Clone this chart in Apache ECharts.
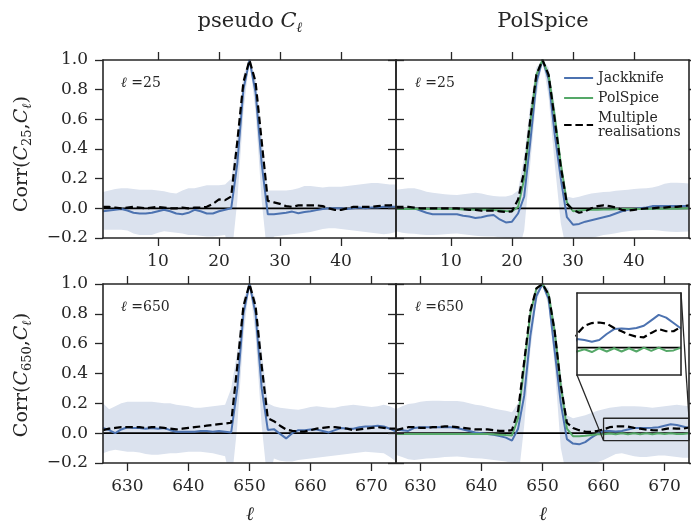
<!DOCTYPE html>
<html><head><meta charset="utf-8">
<script src="https://cdn.jsdelivr.net/npm/echarts@6/dist/echarts.min.js"></script>
<style>html,body{margin:0;padding:0;background:#fff}#c{width:691px;height:521px}</style>
</head><body><div id="c"></div>
<script>
// ---------- data ----------
function range(a, b) { const r = []; for (let v = a; v <= b; v++) r.push(v); return r; }
const ellTop = range(1, 49);
const ellBot = range(626, 674);
const xRangeTop = [1, 49];
const xRangeBot = [626, 674];
const yRange = [-0.2, 1.0];
const xTicksTop = [10, 20, 30, 40];
const xTicksBot = [630, 640, 650, 660, 670];
const yTicks = [-0.2, 0, 0.2, 0.4, 0.6, 0.8, 1.0];
const insetX = [660, 674];
const insetY = [-0.05, 0.1];
const seriesNames = ['Jackknife', 'PolSpice', 'Multiple\nrealisations'];

// top-left: pseudo C_l, l=25
const jkTL = [-0.02,-0.015,-0.01,-0.005,-0.015,-0.03,-0.035,-0.035,-0.03,-0.02,-0.01,-0.02,-0.035,-0.04,-0.03,-0.01,-0.02,-0.035,-0.035,-0.02,-0.01,0.0,0.3,0.8,1.0,0.78,0.3,-0.04,-0.04,-0.035,-0.03,-0.022,-0.033,-0.025,-0.02,-0.012,-0.005,0.0,0.0,0.0,-0.005,0.0,0.005,0.0,0.005,0.005,0.01,0.01,0.01];
const bkTL = [0.01,0.01,0.005,0.0,0.005,0.01,0.005,0.0,0.005,0.01,0.005,0.0,0.0,0.005,0.0,0.005,0.005,0.01,0.03,0.06,0.055,0.08,0.45,0.85,1.0,0.85,0.45,0.05,0.04,0.03,0.015,0.01,0.02,0.02,0.02,0.02,0.015,0.0,-0.01,-0.01,0.0,0.01,0.01,0.01,0.01,0.015,0.02,0.02,0.025];
const hiTL = [0.11,0.12,0.13,0.135,0.135,0.13,0.125,0.125,0.125,0.12,0.115,0.105,0.1,0.12,0.135,0.135,0.145,0.155,0.155,0.155,0.16,0.2,0.5,0.9,1.0,0.88,0.5,0.12,0.12,0.12,0.12,0.125,0.135,0.15,0.15,0.145,0.14,0.145,0.145,0.145,0.15,0.155,0.16,0.165,0.17,0.17,0.165,0.16,0.16];
const loTL = [-0.145,-0.145,-0.145,-0.145,-0.15,-0.17,-0.18,-0.18,-0.18,-0.165,-0.155,-0.16,-0.165,-0.17,-0.18,-0.18,-0.185,-0.19,-0.19,-0.185,-0.18,-0.35,0.05,0.65,1.0,0.65,0.05,-0.35,-0.19,-0.185,-0.18,-0.175,-0.17,-0.165,-0.16,-0.15,-0.14,-0.135,-0.135,-0.14,-0.145,-0.15,-0.155,-0.16,-0.165,-0.17,-0.175,-0.17,-0.16];

// top-right: PolSpice, l=25
const jkTR = [-0.005,-0.005,-0.005,0.0,-0.015,-0.03,-0.04,-0.04,-0.04,-0.04,-0.04,-0.05,-0.055,-0.065,-0.06,-0.05,-0.045,-0.075,-0.095,-0.09,-0.035,0.08,0.45,0.85,1.0,0.87,0.5,0.2,-0.06,-0.11,-0.105,-0.09,-0.08,-0.07,-0.06,-0.05,-0.035,-0.02,-0.01,-0.005,0.0,0.005,0.015,0.015,0.015,0.015,0.015,0.015,0.015];
const grTR = [-0.005,-0.005,-0.005,-0.005,-0.005,-0.005,-0.005,-0.005,-0.005,-0.005,-0.005,-0.008,-0.008,-0.01,-0.01,-0.01,-0.012,-0.015,-0.018,-0.02,0.01,0.2,0.58,0.9,1.0,0.9,0.62,0.3,0.04,-0.02,-0.015,-0.012,-0.01,-0.01,-0.008,-0.008,-0.006,-0.005,-0.005,-0.005,-0.004,-0.004,-0.003,-0.003,-0.002,-0.002,-0.002,-0.001,0.0];
const bkTR = [0.01,0.01,0.01,0.005,0.0,0.0,0.0,0.0,0.0,0.0,0.0,-0.005,-0.01,-0.01,-0.015,-0.015,-0.015,-0.02,-0.025,-0.02,0.06,0.25,0.6,0.9,1.0,0.9,0.6,0.28,0.03,-0.01,-0.03,-0.02,0.0,0.015,0.02,0.015,0.005,-0.01,-0.015,-0.01,-0.005,0.0,0.0,0.005,0.005,0.01,0.01,0.015,0.02];
const hiTR = [0.125,0.13,0.135,0.135,0.125,0.112,0.105,0.1,0.095,0.092,0.09,0.095,0.1,0.105,0.1,0.09,0.083,0.08,0.08,0.09,0.12,0.35,0.7,0.95,1.0,0.95,0.7,0.35,0.08,0.07,0.078,0.09,0.1,0.105,0.11,0.112,0.118,0.122,0.125,0.13,0.133,0.135,0.14,0.15,0.165,0.173,0.172,0.17,0.168];
const loTR = [-0.155,-0.165,-0.17,-0.172,-0.176,-0.18,-0.18,-0.178,-0.175,-0.172,-0.17,-0.175,-0.18,-0.185,-0.188,-0.19,-0.19,-0.195,-0.2,-0.205,-0.3,-0.15,0.3,0.75,1.0,0.75,0.3,-0.1,-0.3,-0.25,-0.22,-0.21,-0.2,-0.19,-0.18,-0.175,-0.168,-0.16,-0.155,-0.15,-0.148,-0.146,-0.146,-0.15,-0.155,-0.158,-0.16,-0.158,-0.156];

// bottom-left: pseudo C_l, l=650
const jkBL = [0.035,0.02,0.0,0.025,0.04,0.035,0.035,0.03,0.035,0.03,0.035,0.02,0.01,0.01,0.01,0.01,0.015,0.015,0.01,0.015,0.01,0.005,0.3,0.8,1.0,0.8,0.3,0.022,0.027,-0.005,-0.035,0.0,0.02,0.02,0.025,0.025,0.015,0.005,0.02,0.035,0.03,0.03,0.04,0.045,0.045,0.05,0.045,0.03,0.01];
const bkBL = [0.02,0.03,0.035,0.04,0.04,0.04,0.04,0.035,0.04,0.04,0.035,0.03,0.025,0.03,0.035,0.04,0.045,0.05,0.055,0.06,0.065,0.07,0.45,0.85,1.0,0.85,0.45,0.1,0.08,0.05,0.025,0.015,0.01,0.01,0.02,0.03,0.035,0.04,0.04,0.035,0.03,0.02,0.025,0.03,0.035,0.04,0.035,0.03,0.03];
const hiBL = [0.2,0.16,0.18,0.2,0.21,0.21,0.21,0.21,0.21,0.205,0.2,0.2,0.19,0.185,0.18,0.17,0.17,0.175,0.18,0.185,0.19,0.3,0.55,0.9,1.0,0.9,0.55,0.2,0.18,0.17,0.165,0.16,0.157,0.165,0.175,0.18,0.175,0.17,0.17,0.18,0.185,0.19,0.185,0.18,0.175,0.18,0.19,0.18,0.16];
const loBL = [-0.135,-0.12,-0.112,-0.118,-0.124,-0.125,-0.13,-0.14,-0.145,-0.145,-0.14,-0.135,-0.135,-0.13,-0.125,-0.124,-0.125,-0.13,-0.135,-0.145,-0.155,-0.35,0.05,0.65,1.0,0.65,0.05,-0.35,-0.17,-0.185,-0.19,-0.19,-0.18,-0.175,-0.17,-0.165,-0.16,-0.155,-0.15,-0.145,-0.14,-0.135,-0.13,-0.125,-0.128,-0.132,-0.135,-0.16,-0.19];

// bottom-right: PolSpice, l=650
const jkBR = [0.025,0.02,0.015,0.035,0.04,0.04,0.04,0.04,0.04,0.04,0.035,0.025,0.015,0.005,0.0,-0.005,-0.01,-0.02,-0.03,-0.05,0.03,0.25,0.65,0.92,1.0,0.9,0.55,0.2,-0.04,-0.07,-0.075,-0.06,-0.03,-0.005,0.016,0.014,0.011,0.014,0.025,0.034,0.035,0.034,0.036,0.04,0.05,0.06,0.055,0.045,0.035];
const grBR = [-0.005,-0.005,-0.005,-0.005,-0.005,-0.005,-0.005,-0.005,-0.005,-0.005,-0.005,-0.005,-0.005,-0.005,-0.005,-0.006,-0.008,-0.01,-0.013,-0.015,0.1,0.45,0.8,0.97,1.0,0.93,0.68,0.32,0.03,-0.02,-0.02,-0.017,-0.012,-0.008,-0.007,-0.003,-0.008,-0.001,-0.007,-0.001,-0.007,-0.001,-0.007,0.0,-0.006,0.0,-0.006,-0.005,0.0];
const bkBR = [0.02,0.03,0.04,0.04,0.035,0.035,0.04,0.04,0.045,0.045,0.04,0.035,0.03,0.025,0.025,0.025,0.02,0.015,0.015,0.02,0.15,0.48,0.82,0.97,1.0,0.93,0.68,0.32,0.07,0.035,0.02,0.01,0.008,0.015,0.025,0.04,0.045,0.046,0.044,0.036,0.03,0.024,0.02,0.019,0.027,0.034,0.03,0.03,0.038];
const hiBR = [0.16,0.18,0.195,0.2,0.21,0.215,0.218,0.218,0.215,0.215,0.215,0.21,0.2,0.19,0.185,0.175,0.165,0.157,0.15,0.14,0.2,0.45,0.8,0.97,1.0,0.97,0.75,0.4,0.12,0.1,0.11,0.12,0.135,0.15,0.16,0.17,0.175,0.18,0.18,0.18,0.178,0.175,0.17,0.175,0.18,0.185,0.19,0.185,0.18];
const loBR = [-0.146,-0.16,-0.175,-0.18,-0.175,-0.17,-0.168,-0.165,-0.16,-0.158,-0.157,-0.16,-0.165,-0.168,-0.17,-0.175,-0.18,-0.185,-0.19,-0.2,-0.32,0.05,0.55,0.88,1.0,0.85,0.45,-0.1,-0.3,-0.27,-0.23,-0.215,-0.205,-0.195,-0.18,-0.16,-0.14,-0.135,-0.145,-0.155,-0.16,-0.16,-0.155,-0.15,-0.15,-0.155,-0.16,-0.165,-0.165];

// ---------- styling ----------
const SERIF = 'DejaVu Serif';
const INK = '#262626';
const BLUE = '#4C72B0', GREEN = '#55A868', BAND = '#DBE2EE';

const chart = echarts.init(document.getElementById('c'), null, { renderer: 'canvas' });

function pts(xs, ys) { return xs.map((x, i) => [x, ys[i]]); }

const grids = [
  { left: 103, top: 60, width: 293, height: 178 },
  { left: 396, top: 60, width: 293, height: 178 },
  { left: 103, top: 284, width: 293, height: 179 },
  { left: 396, top: 284, width: 293, height: 179 },
  { left: 577, top: 293, width: 104, height: 82 }
];

const xAxes = [], yAxes = [];
function addAxes(g, xr, xt, showX, yr, showY, ticks) {
  const tickLen = ticks ? 8 : 0;
  ['bottom', 'top'].forEach((pos, k) => {
    xAxes.push({
      type: 'value', gridIndex: g, position: pos, min: xr[0], max: xr[1], z: 10,
      axisLine: { show: true, onZero: false, lineStyle: { color: INK, width: 1.6 } },
      axisTick: { show: ticks, inside: false, length: tickLen, customValues: xt, lineStyle: { color: INK, width: 1.3 } },
      axisLabel: { show: showX && k === 0, customValues: xt, margin: 15, color: INK, fontFamily: SERIF, fontSize: 17 },
      splitLine: { show: false }
    });
  });
  ['left', 'right'].forEach((pos, k) => {
    yAxes.push({
      type: 'value', gridIndex: g, position: pos, min: yr[0], max: yr[1], z: 10,
      axisLine: { show: true, onZero: false, lineStyle: { color: INK, width: 1.6 } },
      axisTick: { show: ticks, inside: false, length: tickLen, customValues: yTicks, lineStyle: { color: INK, width: 1.3 } },
      axisLabel: { show: showY && k === 0, customValues: yTicks, margin: 15, color: INK, fontFamily: SERIF, fontSize: 17,
        formatter: v => v.toFixed(1).replace('-', '\u2212') },
      splitLine: { show: false }
    });
  });
}
addAxes(0, xRangeTop, xTicksTop, true, yRange, true, true);
addAxes(1, xRangeTop, xTicksTop, true, yRange, false, true);
addAxes(2, xRangeBot, xTicksBot, true, yRange, true, true);
addAxes(3, xRangeBot, xTicksBot, true, yRange, false, true);
addAxes(4, insetX, [], false, insetY, false, false);

const series = [];
function ln(name, g, xs, ys, color, width, dashed, z) {
  series.push({
    type: 'line', name: name, xAxisIndex: 2 * g, yAxisIndex: 2 * g, data: pts(xs, ys),
    symbol: 'none', showSymbol: false, z: z, silent: true,
    lineStyle: { color: color, width: width, type: dashed ? [7.5, 3.8] : 'solid' },
    itemStyle: { color: color }
  });
}
function band(g, xs, lo, hi) {
  const data = xs.map((x, i) => [x, lo[i], hi[i]]);
  series.push({
    type: 'custom', name: 'band', xAxisIndex: 2 * g, yAxisIndex: 2 * g, silent: true, z: 1,
    data: data, encode: { x: 0, y: [1, 2] },
    renderItem: function (params, api) {
      if (params.dataIndex !== 0) return null;
      const upper = data.map(d => api.coord([d[0], d[2]]));
      const lower = data.map(d => api.coord([d[0], d[1]])).reverse();
      const cs = params.coordSys;
      return {
        type: 'polygon', shape: { points: upper.concat(lower) }, style: { fill: BAND },
        clipPath: { type: 'rect', shape: { x: cs.x, y: cs.y, width: cs.width, height: cs.height } }
      };
    }
  });
}
function zero(g, xr) {
  series.push({
    type: 'line', name: 'zero', xAxisIndex: 2 * g, yAxisIndex: 2 * g, data: [[xr[0], 0], [xr[1], 0]],
    symbol: 'none', silent: true, z: 2, lineStyle: { color: '#000', width: 1.8 }
  });
}

// panel 0
band(0, ellTop, loTL, hiTL); zero(0, xRangeTop);
ln(seriesNames[0], 0, ellTop, jkTL, BLUE, 2, false, 3);
ln(seriesNames[2], 0, ellTop, bkTL, '#000', 2.2, true, 5);
// panel 1
band(1, ellTop, loTR, hiTR); zero(1, xRangeTop);
ln(seriesNames[0], 1, ellTop, jkTR, BLUE, 2, false, 3);
ln(seriesNames[1], 1, ellTop, grTR, GREEN, 2, false, 4);
ln(seriesNames[2], 1, ellTop, bkTR, '#000', 2.2, true, 5);
// panel 2
band(2, ellBot, loBL, hiBL); zero(2, xRangeBot);
ln(seriesNames[0], 2, ellBot, jkBL, BLUE, 2, false, 3);
ln(seriesNames[2], 2, ellBot, bkBL, '#000', 2.2, true, 5);
// panel 3
band(3, ellBot, loBR, hiBR); zero(3, xRangeBot);
ln(seriesNames[0], 3, ellBot, jkBR, BLUE, 2, false, 3);
ln(seriesNames[1], 3, ellBot, grBR, GREEN, 2, false, 4);
ln(seriesNames[2], 3, ellBot, bkBR, '#000', 2.2, true, 5);
// inset rectangle on panel 3
series.push({
  type: 'line', name: 'insetbox', xAxisIndex: 6, yAxisIndex: 6, clip: false, symbol: 'none', silent: true, z: 6,
  data: [[insetX[0], insetY[0]], [insetX[1], insetY[0]], [insetX[1], insetY[1]], [insetX[0], insetY[1]], [insetX[0], insetY[0]]],
  lineStyle: { color: INK, width: 1.3 }
});
// inset panel 4
zero(4, insetX);
ln(seriesNames[0], 4, ellBot, jkBR, BLUE, 2, false, 3);
ln(seriesNames[1], 4, ellBot, grBR, GREEN, 2, false, 4);
ln(seriesNames[2], 4, ellBot, bkBR, '#000', 2.2, true, 5);

const rich = {
  t: { fontFamily: SERIF, fontSize: 21, color: INK, lineHeight: 26 },
  ti: { fontFamily: SERIF, fontSize: 21, fontStyle: 'italic', color: INK, lineHeight: 26 },
  ts: { fontFamily: SERIF, fontSize: 14, fontStyle: 'italic', color: INK, lineHeight: 11, verticalAlign: 'bottom' },
  n: { fontFamily: SERIF, fontSize: 19, color: INK, lineHeight: 24 },
  i: { fontFamily: SERIF, fontSize: 19, fontStyle: 'italic', color: INK, lineHeight: 24 },
  s: { fontFamily: SERIF, fontSize: 13, fontStyle: 'italic', color: INK, lineHeight: 10, verticalAlign: 'bottom' },
  sn: { fontFamily: SERIF, fontSize: 13, color: INK, lineHeight: 10, verticalAlign: 'bottom' },
  a: { fontFamily: SERIF, fontSize: 14, color: INK },
  ai: { fontFamily: SERIF, fontSize: 14, fontStyle: 'italic', color: INK }
};
function txt(x, y, text, rot, align) {
  return { type: 'text', x: x, y: y, rotation: rot || 0, silent: true, z: 20,
    style: { text: text, rich: rich, align: align || 'center', verticalAlign: 'middle', fill: INK } };
}

const graphics = [
  txt(250, 22, '{t|pseudo }{ti|C}{ts|ℓ}'),
  txt(543, 22, '{t|PolSpice}'),
  txt(22, 154, '{n|Corr(}{i|C}{sn|25}{n|,}{i|C}{s|ℓ}{n|)}', Math.PI / 2),
  txt(22, 375, '{n|Corr(}{i|C}{sn|650}{n|,}{i|C}{s|ℓ}{n|)}', Math.PI / 2),
  txt(250, 515, '{i|ℓ}'),
  txt(543, 515, '{i|ℓ}'),
  txt(121, 83, '{ai|ℓ}{a| =25}', 0, 'left'),
  txt(415, 83, '{ai|ℓ}{a| =25}', 0, 'left'),
  txt(121, 307, '{ai|ℓ}{a| =650}', 0, 'left'),
  txt(415, 307, '{ai|ℓ}{a| =650}', 0, 'left')
];

chart.setOption({
  animation: false,
  backgroundColor: '#fff',
  grid: grids,
  xAxis: xAxes,
  yAxis: yAxes,
  legend: {
    data: seriesNames, orient: 'vertical', left: 558, top: 66, itemWidth: 29, itemHeight: 14, itemGap: 6,
    selectedMode: false,
    itemStyle: { opacity: 0, borderWidth: 0 },
    lineStyle: { type: 'inherit', width: 'inherit', color: 'inherit' },
    textStyle: { fontFamily: SERIF, fontSize: 14, color: INK, lineHeight: 14 }
  },
  series: series,
  graphic: graphics
});

// connector lines between inset and its marked region
const a1 = chart.convertToPixel({ gridIndex: 4 }, [insetX[0], insetY[0]]);
const b1 = chart.convertToPixel({ gridIndex: 3 }, [insetX[0], insetY[0]]);
const a2 = chart.convertToPixel({ gridIndex: 4 }, [insetX[1], insetY[1]]);
const b2 = chart.convertToPixel({ gridIndex: 3 }, [insetX[1], insetY[1]]);
chart.setOption({
  graphic: graphics.concat([
    { type: 'line', silent: true, z: 20, shape: { x1: a1[0], y1: a1[1], x2: b1[0], y2: b1[1] }, style: { stroke: INK, lineWidth: 1.3 } },
    { type: 'line', silent: true, z: 20, shape: { x1: a2[0], y1: a2[1], x2: b2[0], y2: b2[1] }, style: { stroke: INK, lineWidth: 1.3 } }
  ])
});
</script></body></html>
